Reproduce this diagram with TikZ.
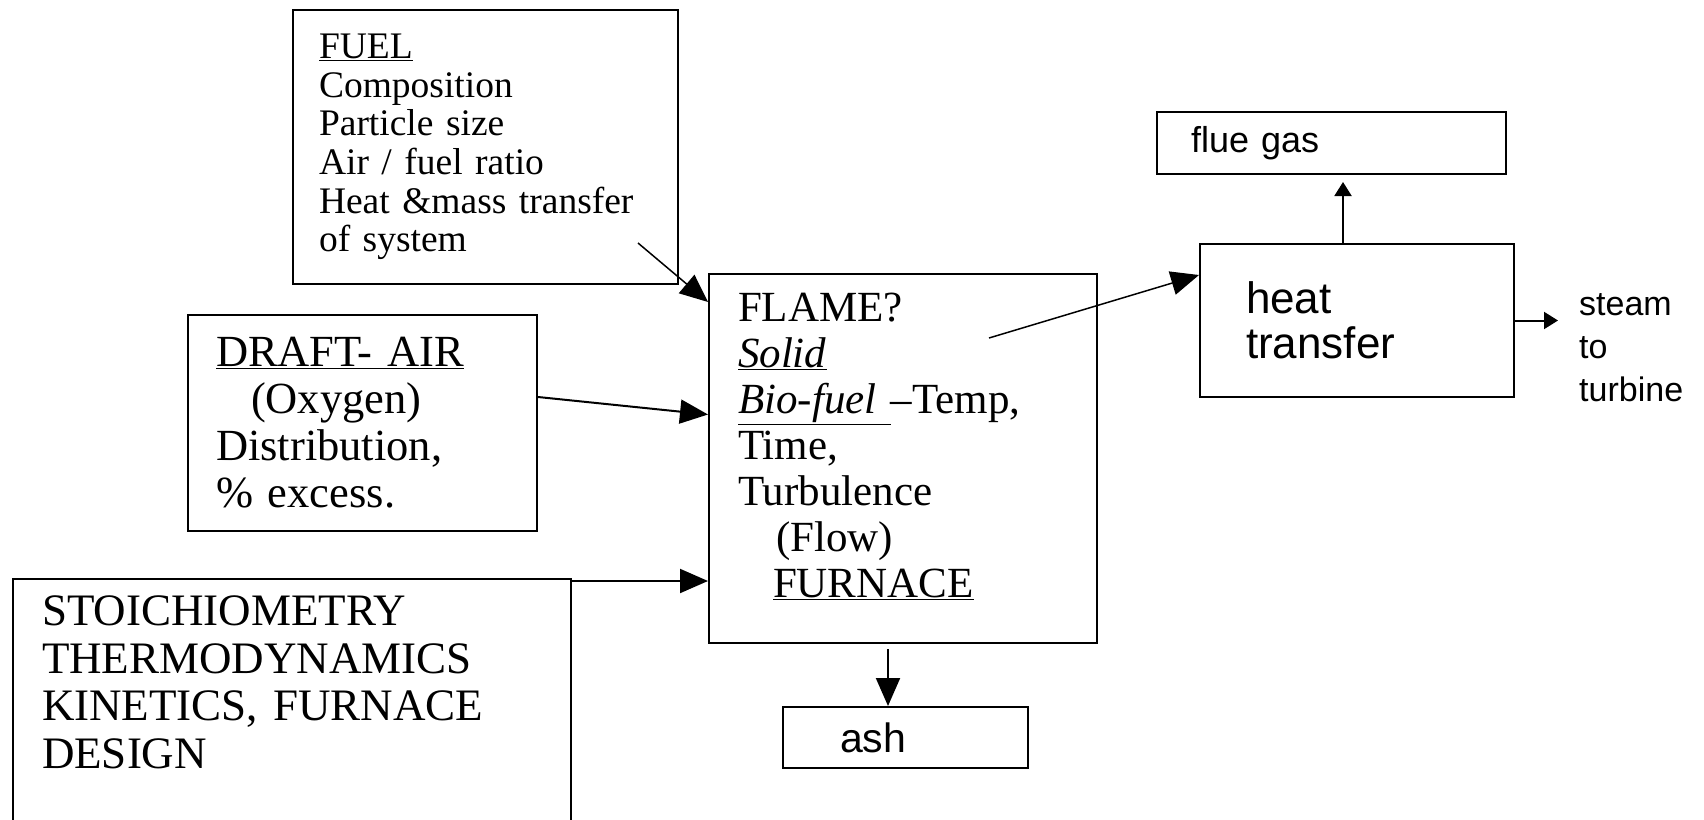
\documentclass[tikz,border=0pt]{standalone}
\usepackage{fontspec}
\setmainfont{Liberation Serif}
\newfontfamily\arialfont{Liberation Sans}
\usetikzlibrary{arrows.meta,positioning}

\begin{document}
\begin{tikzpicture}[x=1pt,y=-1pt,
	box/.style={draw,line width=2pt,align=left,inner ysep=0pt,anchor=north west},
	bigarr/.style={line width=2pt,-{Triangle[length=28pt,width=24pt]}},
	smallarr/.style={line width=2pt,-{Triangle[length=14pt,width=17pt]}}]
	\useasboundingbox (0,0) rectangle (1704,819);
	% input boxes
	\node[box,inner xsep=26pt,text width=333pt,minimum height=274pt,
	font=\fontsize{37.5}{38.6}\selectfont] (fuel) at (292,9)
	{\underline{FUEL}\\Composition\\Particle size\\Air / fuel ratio\\Heat \&mass transfer\\of system};
	\node[box,inner xsep=28pt,text width=293pt,minimum height=216pt,
	font=\fontsize{44.5}{47}\selectfont] (draft) at (187,314)
	{\underline{DRAFT- AIR}\\\hspace*{35pt}(Oxygen)\\Distribution,\\\% excess.};
	\node[box,inner xsep=29pt,inner ysep=17pt,text width=500pt,
	font=\fontsize{45}{47.5}\selectfont] (stoich) at (12,578)
	{STOICHIOMETRY\\THERMODYNAMICS\\KINETICS, FURNACE\\DESIGN\\[150pt]\mbox{}};
	% furnace
	\node[box,inner xsep=29pt,text width=330pt,minimum height=369pt,
	font=\fontsize{43}{46}\selectfont] (flame) at (708,273)
	{FLAME?\\\underline{\textit{Solid}}\\\underline{\textit{Bio-fuel }}--Temp,\\Time,\\Turbulence\\
		\hspace*{38pt}(Flow)\\\hspace*{35pt}\underline{FURNACE}\rule[-26pt]{0pt}{1pt}};
	% outputs
	\node[box,inner xsep=57pt,text width=131pt,minimum height=61pt,
	font=\arialfont\fontsize{41}{45}\selectfont] (ash) at (782,706) {ash};
	\node[box,inner xsep=46pt,text width=222pt,minimum height=153pt,
	font=\arialfont\fontsize{44}{45}\selectfont] (heat) at (1199,243) {heat\\transfer};
	\node[box,inner xsep=34pt,text width=281pt,minimum height=62pt,
	font=\arialfont\fontsize{36}{40}\selectfont] (flue) at (1156,111) {flue gas};
	\node[anchor=north west,inner sep=0pt,align=left,
	font=\arialfont\fontsize{34}{43}\selectfont] (steam) at (1579,293) {steam\\to\\turbine};
	% arrows
	\coordinate (fuelout) at (638,243);
	\coordinate (flameout) at (989,338);
	\draw[bigarr,line width=1.5pt] (fuelout) -- ([yshift=-29pt]flame.north west);
	\draw[bigarr] ([yshift=26pt]draft.east) -- ([yshift=44pt]flame.west);
	\draw[bigarr] ([yshift=-3pt]stoich.north east) -- ([yshift=-3pt]stoich.north east -| flame.west);
	\draw[bigarr,shorten <=5pt] ([xshift=-15pt]flame.south) -- ([xshift=-15pt]flame.south |- ash.north);
	\draw[bigarr,line width=1.5pt] (flameout) -- ([yshift=-32pt]heat.north west);
	\draw[smallarr,shorten >=7pt] ([xshift=-14pt]heat.north) -- ([xshift=-14pt]heat.north |- flue.south);
	\draw[smallarr] (heat.east) -- ([xshift=-21pt]heat.east -| steam.west);
\end{tikzpicture}
\end{document}
